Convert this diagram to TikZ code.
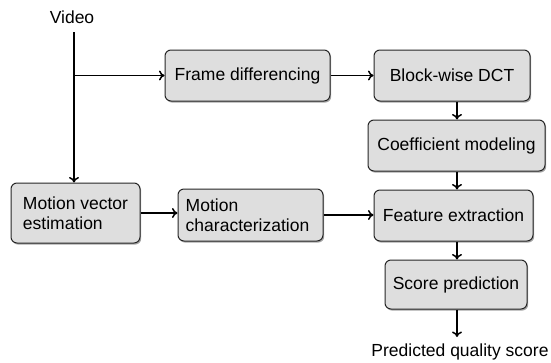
\documentclass[tikz,border=0pt]{standalone}
\usepackage{fontspec}
\setmainfont{Liberation Sans}
\usetikzlibrary{shadows,arrows.meta}
\begin{document}
\begin{tikzpicture}[x=1pt,y=-1pt,
  font=\fontsize{17.5}{21}\selectfont,
  box/.style={draw=black!85, line width=1pt, fill=black!13, rounded corners=6pt,
    inner sep=0pt, align=center,
    drop shadow={shadow xshift=1.2pt, shadow yshift=-1.6pt, fill=black, opacity=0.35}},
  flow/.style={line width=1.6pt, -{To[length=5.5pt,width=10pt,line width=1.5pt]}}]
  \useasboundingbox (0,0) rectangle (551,362);

  % processing blocks
  \node[box, minimum width=165pt, minimum height=51pt] (fd)    at (247.5,75.5) {Frame differencing};
  \node[box, minimum width=156pt, minimum height=51pt] (dct)   at (452,75.5)   {Block-wise DCT};
  \node[box, minimum width=177pt, minimum height=51pt] (coef)  at (456.5,145.5) {Coefficient modeling};
  \node[box, minimum width=159pt, minimum height=51pt] (feat)  at (453.5,215.5) {Feature extraction};
  \node[box, minimum width=142pt, minimum height=49pt] (score) at (456,284.5)  {Score prediction};
  \node[box, minimum width=129pt, minimum height=60pt, align=left] (mve) at (75.5,213)
    {Motion vector\\[-1pt]estimation};
  \node[box, minimum width=145pt, minimum height=52pt, align=left] (mc) at (250.5,215)
    {\hspace*{-6pt}Motion\\[-1pt]\hspace*{-6pt}characterization};

  % input and output labels
  \node (video) at (72,17) {Video};
  \node (out) at (460,352) {Predicted quality score};
  \coordinate (vin) at (74,32);
  \coordinate (oend) at (457,337);

  % connectors
  \draw[flow] (vin) -- (vin |- mve.north);
  \draw[flow] (vin |- fd.west) -- (fd.west);
  \draw[flow] (fd.east) -- (dct.west);
  \draw[flow] (oend |- dct.south) -- (oend |- coef.north);
  \draw[flow] (oend |- coef.south) -- (oend |- feat.north);
  \draw[flow] (oend |- feat.south) -- (oend |- score.north);
  \draw[flow] (oend |- score.south) -- (oend);
  \draw[flow] (mve.east) -- (mve.east -| mc.west);
  \draw[flow] (mc.east) -- (mc.east -| feat.west);
\end{tikzpicture}
\end{document}
